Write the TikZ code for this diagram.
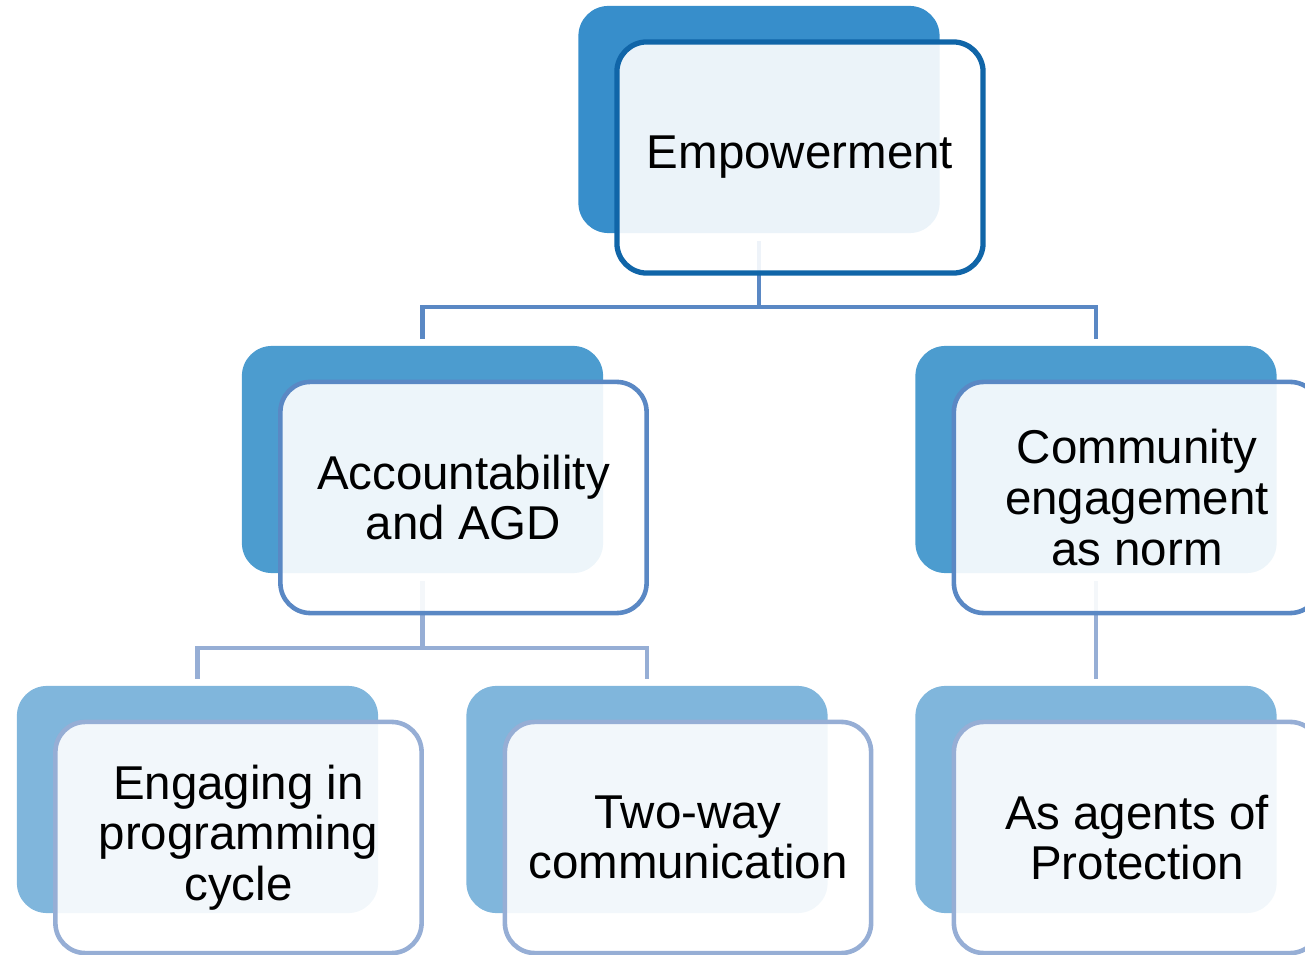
\documentclass[tikz,border=0pt]{standalone}
\usepackage{fontspec}
\setmainfont{Liberation Sans}
\usepackage{xcolor}
\definecolor{topblue}{RGB}{55,142,203}
\definecolor{topline}{RGB}{16,101,168}
\definecolor{midblue}{RGB}{76,156,207}
\definecolor{midline}{RGB}{90,136,196}
\definecolor{lowblue}{RGB}{128,182,220}
\definecolor{lowline}{RGB}{150,174,213}

\begin{document}
\begin{tikzpicture}[x=0.01cm, y=-0.01cm,
    backbox/.style={rounded corners=0.3cm, minimum width=3.61cm, minimum height=2.27cm, inner sep=0pt},
    frontbox/.style={draw, line width=1.3pt, rounded corners=0.3cm, fill=white, fill opacity=0.9, text opacity=1,
        minimum width=3.66cm, minimum height=2.31cm, align=center, inner sep=0pt,
        font=\fontsize{13.5}{14.4}\selectfont},
    link/.style={line width=1.2pt, shorten <=0.07cm, shorten >=0.06cm},
    branch/.style={line width=1.2pt, shorten >=0.06cm}]
    \useasboundingbox (0,0) rectangle (1305,955);
    \clip (0,0) rectangle (1305,955);

    % back boxes
    \node[backbox, fill=topblue] (empB) at (759,119.5) {};
    \node[backbox, fill=midblue] (accB) at (422.5,459.5) {};
    \node[backbox, fill=midblue] (comB) at (1096,459.5) {};
    \node[backbox, fill=lowblue] (engB) at (197.5,799.5) {};
    \node[backbox, fill=lowblue] (twoB) at (647,799.5) {};
    \node[backbox, fill=lowblue] (ageB) at (1096,799.5) {};

    % connectors
    \coordinate (hubA) at (759,307);
    \coordinate (hubB) at (422.5,648);
    \draw[link, midline] (empB.south) -- (hubA) -| (accB.north);
    \draw[branch, midline] (hubA) -| (comB.north);
    \draw[link, lowline] (accB.south) -- (hubB) -| (engB.north);
    \draw[branch, lowline] (hubB) -| (twoB.north);
    \draw[link, lowline] (comB.south) -- (ageB.north);

    % front boxes
    \node[frontbox, draw=topline, line width=1.5pt] (emp) at ([shift={(41,38)}]empB.center) {Empowerment};
    \node[frontbox, draw=midline] (acc) at ([shift={(41,38)}]accB.center) {Accountability\\and AGD};
    \node[frontbox, draw=midline] (com) at ([shift={(41,38)}]comB.center) {Community\\engagement\\as norm};
    \node[frontbox, draw=lowline] (eng) at ([shift={(41,38)}]engB.center) {Engaging in\\programming\\cycle};
    \node[frontbox, draw=lowline] (two) at ([shift={(41,38)}]twoB.center) {Two-way\\communication};
    \node[frontbox, draw=lowline] (age) at ([shift={(41,38)}]ageB.center) {As agents of\\Protection};
\end{tikzpicture}
\end{document}
